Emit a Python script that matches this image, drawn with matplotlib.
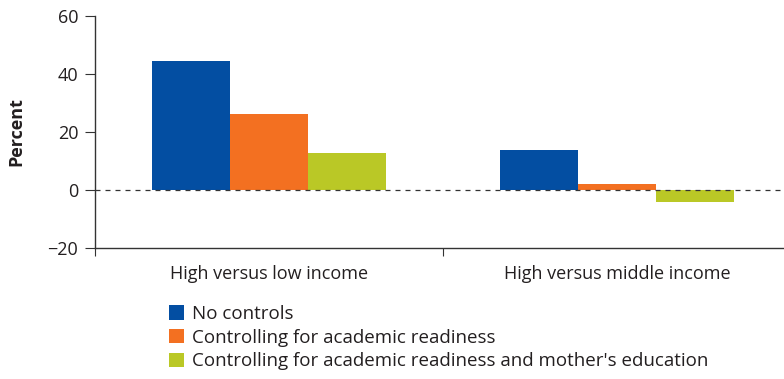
import numpy as np
import matplotlib.pyplot as plt

plt.rcParams['font.family'] = ['Open Sans', 'DejaVu Sans']

groups = ['High versus low income', 'High versus middle income']
series = ['No controls',
          'Controlling for academic readiness',
          "Controlling for academic readiness and mother's education"]
no_controls = [44.5, 13.8]
academic = [26.2, 2.1]
academic_mother = [12.8, -4.0]
colors = ['#034EA2', '#F37021', '#BAC826']

fig = plt.figure(figsize=(7.84, 3.79), dpi=100)
ax = fig.add_axes([95 / 784, 131 / 379, 689 / 784, 232 / 379])

x = np.arange(len(groups))
w = 0.224
for i, (vals, lab, c) in enumerate(zip([no_controls, academic, academic_mother], series, colors)):
    ax.bar(x + (i - 1) * w, vals, width=w, color=c, label=lab, zorder=2)

ax.axhline(0, color='#333333', lw=0.9, ls=(0, (4, 4)), zorder=3)

ax.set_ylim(-20, 60)
ax.set_yticks([-20, 0, 20, 40, 60])
ax.set_yticklabels(['\u221220', '0', '20', '40', '60'])
ax.set_xlim(-0.5, 1.48)
ax.set_xticks([-0.5, 0.5])
ax.set_xticklabels([])
ax.set_xticks(x, minor=True)
ax.set_xticklabels(groups, minor=True)
ax.tick_params(axis='x', which='minor', length=0, pad=12, labelsize=13, colors='#231F20')
ax.tick_params(axis='x', which='major', length=6, direction='out', color='#333333')
ax.tick_params(axis='y', length=7, direction='out', pad=5, labelsize=13, color='#333333',
               labelcolor='#231F20')

for s in ['top', 'right']:
    ax.spines[s].set_visible(False)
for s in ['left', 'bottom']:
    ax.spines[s].set_color('#333333')
    ax.spines[s].set_linewidth(1.0)

ax.set_ylabel('Percent', fontsize=13, fontweight='bold', color='#231F20')
ax.yaxis.set_label_coords(-70 / 689, 0.5)

fig.legend(loc='upper left', bbox_to_anchor=(169 / 784, 1 - 305 / 379), frameon=False,
           fontsize=13.5, handlelength=0.8, handleheight=0.8, handletextpad=0.45,
           labelspacing=0.3, borderaxespad=0, borderpad=0, labelcolor='#231F20')

fig.savefig('out.png', dpi=100)
